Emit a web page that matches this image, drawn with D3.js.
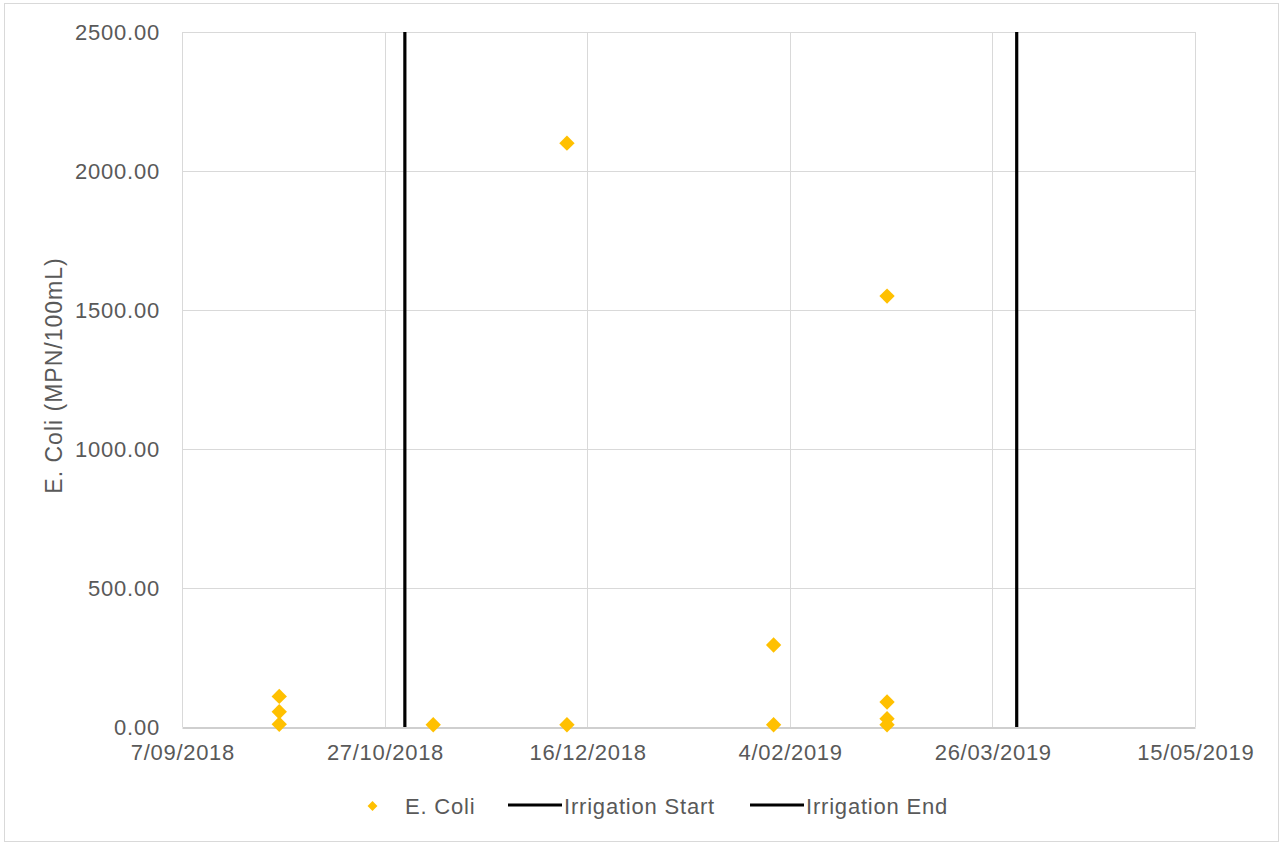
<!DOCTYPE html>
<html>
<head>
<meta charset="utf-8">
<script src="https://cdn.jsdelivr.net/npm/d3@7"></script>
<style>
  html, body { margin: 0; padding: 0; background: #fff; }
  svg { display: block; font-family: "Liberation Sans", Arial, sans-serif; }
</style>
</head>
<body>
<svg id="chart" width="1285" height="843"></svg>
<script>
// E. coli samples (date, MPN/100mL)
const sampleDates = ["2018-10-01", "2018-10-01", "2018-10-01", "2018-11-08",
                     "2018-12-11", "2018-12-11", "2019-01-31", "2019-01-31",
                     "2019-02-28", "2019-02-28", "2019-02-28", "2019-02-28"];
const eColiValues = [110, 55, 10, 8, 2100, 8, 295, 8, 1550, 90, 30, 8];

// Irrigation season markers
const irrigationStart = "2018-11-01";
const irrigationEnd = "2019-04-01";

// Axis ticks
const xTickDates = ["2018-09-07", "2018-10-27", "2018-12-16", "2019-02-04", "2019-03-26", "2019-05-15"];
const yTickValues = [0, 500, 1000, 1500, 2000, 2500];

const seriesNames = ["E. Coli", "Irrigation Start", "Irrigation End"];

const parse = d3.utcParse("%Y-%m-%d");
const svg = d3.select("#chart");

const plot = { left: 182, top: 32, right: 1195, bottom: 727 };

const x = d3.scaleUtc()
  .domain([parse(xTickDates[0]), parse(xTickDates[xTickDates.length - 1])])
  .range([plot.left, plot.right]);
const y = d3.scaleLinear()
  .domain([0, 2500])
  .range([plot.bottom, plot.top]);

const gridColor = "#d9d9d9";
const textColor = "#595959";
const gold = "#FFC000";
const fontFamily = "'Liberation Sans', Arial, sans-serif";

// outer chart frame
svg.append("rect")
  .attr("x", 4.5).attr("y", 3.5)
  .attr("width", 1274).attr("height", 838)
  .attr("fill", "#fff").attr("stroke", gridColor).attr("stroke-width", 1);

// horizontal gridlines
svg.append("g")
  .selectAll("line")
  .data(yTickValues.filter(v => v > 0))
  .join("line")
  .attr("x1", plot.left).attr("x2", plot.right)
  .attr("y1", d => Math.round(y(d)) + 0.5).attr("y2", d => Math.round(y(d)) + 0.5)
  .attr("stroke", gridColor).attr("stroke-width", 1);

// vertical gridlines
svg.append("g")
  .selectAll("line")
  .data(xTickDates.map(parse))
  .join("line")
  .attr("x1", d => Math.round(x(d)) + 0.5).attr("x2", d => Math.round(x(d)) + 0.5)
  .attr("y1", plot.top).attr("y2", plot.bottom)
  .attr("stroke", gridColor).attr("stroke-width", 1);

// x axis
const fmtDay = d3.utcFormat("%-d/%m/%Y");
const xAxis = svg.append("g")
  .attr("transform", `translate(0,${plot.bottom + 0.5})`)
  .call(d3.axisBottom(x).tickValues(xTickDates.map(parse)).tickFormat(fmtDay).tickSize(0).tickPadding(17));
xAxis.select(".domain").attr("stroke", "#bfbfbf").attr("stroke-width", 1.3);
xAxis.selectAll("text")
  .attr("fill", textColor).attr("font-size", 22)
  .attr("font-family", fontFamily).attr("letter-spacing", 0.7)
  .attr("dx", 0.35);

// y axis
const yAxis = svg.append("g")
  .attr("transform", `translate(${plot.left},0)`)
  .call(d3.axisLeft(y).tickValues(yTickValues).tickFormat(d3.format(".2f")).tickSize(0).tickPadding(22));
yAxis.select(".domain").remove();
yAxis.selectAll("text")
  .attr("fill", textColor).attr("font-size", 22)
  .attr("font-family", fontFamily).attr("letter-spacing", 0.8)
  .attr("dy", "0.34em");

// y axis title
svg.append("text")
  .attr("transform", `translate(62,${(plot.top + plot.bottom) / 2 - 4}) rotate(-90)`)
  .attr("text-anchor", "middle")
  .attr("fill", textColor).attr("font-size", 23).attr("letter-spacing", 1)
  .text("E. Coli (MPN/100mL)");

// irrigation markers
const markers = [irrigationStart, irrigationEnd];
svg.append("g")
  .selectAll("line")
  .data(markers)
  .join("line")
  .attr("x1", d => x(parse(d))).attr("x2", d => x(parse(d)))
  .attr("y1", y(0)).attr("y2", y(2500))
  .attr("stroke", "#000").attr("stroke-width", 3.2);

// E. coli points
const diamond = d3.symbol().type(d3.symbolDiamond2).size(150);
svg.append("g")
  .selectAll("path")
  .data(sampleDates.map((d, i) => ({ date: parse(d), value: eColiValues[i] })))
  .join("path")
  .attr("d", diamond)
  .attr("transform", d => `translate(${x(d.date)},${y(d.value)})`)
  .attr("fill", gold);

// legend
const legendY = 806;
const legend = svg.append("g")
  .attr("font-size", 22).attr("letter-spacing", 0.8).attr("fill", textColor);
legend.append("path")
  .attr("d", d3.symbol().type(d3.symbolDiamond2).size(62))
  .attr("transform", `translate(372.5,${legendY})`)
  .attr("fill", gold);
legend.append("text").attr("x", 405).attr("y", legendY + 8).text(seriesNames[0]);

[[508, seriesNames[1]], [750, seriesNames[2]]].forEach(([lx, name]) => {
  legend.append("line")
    .attr("x1", lx).attr("x2", lx + 54)
    .attr("y1", legendY - 1).attr("y2", legendY - 1)
    .attr("stroke", "#000").attr("stroke-width", 3.2);
  legend.append("text").attr("x", lx + 56).attr("y", legendY + 8).text(name);
});
</script>
</body>
</html>
